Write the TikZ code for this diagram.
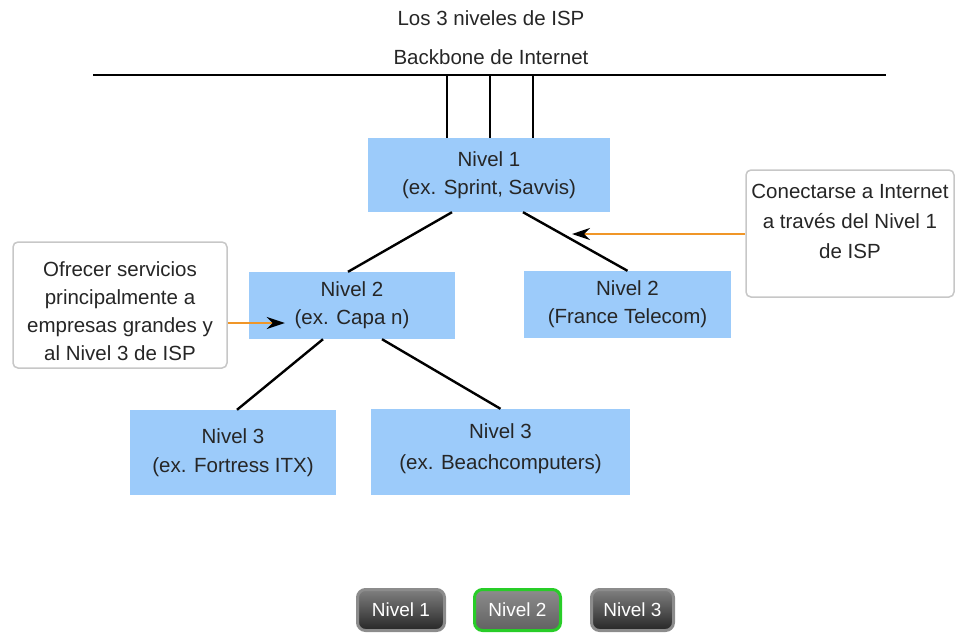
\documentclass[tikz,border=0pt]{standalone}
\usepackage{fontspec}
\setmainfont{Liberation Sans}
\usetikzlibrary{positioning,arrows.meta}

\definecolor{ispblue}{RGB}{156,203,250}
\definecolor{pointerorange}{RGB}{240,150,40}
\definecolor{activegreen}{RGB}{40,205,40}

\begin{document}
\begin{tikzpicture}[
    x=1pt, y=-1pt,
    every node/.style={font=\fontsize{20.5}{28}\selectfont, text=black!85, align=center},
    level/.style={rectangle, fill=ispblue, inner sep=0pt},
    note/.style={rectangle, draw=black!22, line width=1.5pt, rounded corners=5pt, fill=white, inner sep=0pt},
    notetext/.style={inner sep=0pt},
    button/.style={rectangle, rounded corners=8pt, draw=black!45, line width=3pt, top color=black!50, bottom color=black!85, text=white, minimum height=41pt, font=\fontsize{19}{20}\selectfont},
    link/.style={line width=2.4pt},
    pointer/.style={pointerorange, line width=2.4pt, -{Stealth[black, length=18pt, width=12pt]}}
]
\useasboundingbox (0,0) rectangle (956,638);

% Titles and backbone
\node (title)  at (491,18) {Los 3 niveles de ISP};
\node (bbname) at (491,57) {Backbone de Internet};
\coordinate (bbL) at (93,75);
\coordinate (bbR) at (886,75);
\draw[link] (bbL) -- (bbR);

% Levels
\node (lvlone)    [level, minimum width=242pt, minimum height=74pt] at (489,175)   {Nivel 1\\(ex. Sprint, Savvis)};
\node (lvltwoA)   [level, minimum width=206pt, minimum height=67pt] at (352,305.5) {Nivel 2\\(ex. Capa n)};
\node (lvltwoB)   [level, minimum width=207pt, minimum height=67pt] at (627.5,304.5) {Nivel 2\\(France Telecom)};
\node (lvlthreeA) [level, minimum width=206pt, minimum height=85pt, font=\fontsize{20.5}{29}\selectfont] at (233,452.5) {Nivel 3\\(ex. Fortress ITX)};
\node (lvlthreeB) [level, minimum width=259pt, minimum height=86pt, font=\fontsize{20.5}{31}\selectfont] at (500.5,452) {Nivel 3\\(ex. Beachcomputers)\\[-21pt]};

% Links
\foreach \dx in {-42,1,44}
    \draw[link] ([xshift=\dx pt]lvlone.north) -- ([xshift=\dx pt]lvlone.north |- bbL);
\draw[link] ([xshift=-37pt]lvlone.south) -- ([xshift=-4pt]lvltwoA.north);
\draw[link] ([xshift=34pt]lvlone.south) -- (lvltwoB.north);
\draw[link] ([xshift=-29pt]lvltwoA.south) -- ([xshift=4pt]lvlthreeA.north);
\draw[link] ([xshift=30pt]lvltwoA.south) -- (lvlthreeB.north);

% Notes
\node (noteA) [note, minimum width=214pt, minimum height=126pt] at (120,305) {};
\node (noteAtxt) [notetext, below=20pt of noteA.north] {Ofrecer servicios\\principalmente a\\empresas grandes y\\al Nivel 3 de ISP};
\node (noteB) [note, minimum width=208pt, minimum height=127pt] at (850,233.5) {};
\node (noteBtxt) [notetext, below=15pt of noteB.north, font=\fontsize{20.5}{30}\selectfont] {Conectarse a Internet\\a trav\'es del Nivel 1\\de ISP};

% Pointers
\coordinate (tipA) at ([xshift=36pt, yshift=-17.5pt]lvltwoA.west);
\coordinate (tipB) at (572,234);
\draw[pointer] ([yshift=-18pt]noteA.east) -- (tipA);
\draw[pointer] (noteB.west |- tipB) -- (tipB);

% Buttons
\node (btnone)   [button, minimum width=87pt] at (401,610)   {Nivel 1};
\node (btntwo)   [button, minimum width=86pt, draw=activegreen, top color=black!45, bottom color=black!62] at (517.5,610) {Nivel 2};
\node (btnthree) [button, minimum width=82pt] at (632.5,610) {Nivel 3};

\end{tikzpicture}
\end{document}
